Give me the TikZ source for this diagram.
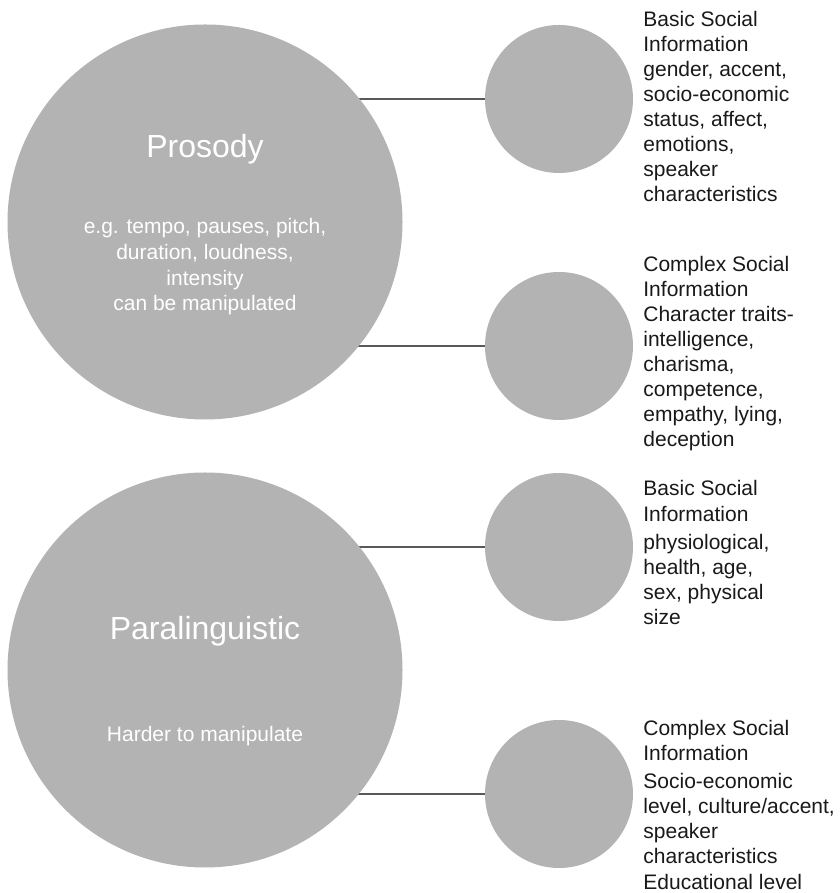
\documentclass[tikz,border=0pt]{standalone}
\usepackage{fontspec}
\setmainfont{Liberation Sans}
\usetikzlibrary{positioning,backgrounds}
\definecolor{cuegray}{RGB}{179,179,179}
\definecolor{linkgray}{RGB}{89,89,89}
\begin{document}
\begin{tikzpicture}[
    x=1pt, y=1pt,
    bigcue/.style={circle, fill=cuegray, draw=none, minimum size=395pt, inner sep=0pt},
    smallcue/.style={circle, fill=cuegray, draw=none, minimum size=148pt, inner sep=0pt},
    cuetitle/.style={text=white, font=\fontsize{32}{38}\selectfont, inner sep=0pt},
    cuenote/.style={text=white, align=center, font=\fontsize{21}{25.7}\selectfont, inner sep=0pt},
    info/.style={text=black!90, align=left, font=\fontsize{21}{25.1}\selectfont, inner sep=0pt},
    link/.style={draw=linkgray, line width=1.2pt}
]
    \useasboundingbox (0,0) rectangle (839,893);

    % --- LEFT: THE TWO CUES ---
    \node[bigcue] (prosody) at (205,671) {};
    \node[bigcue] (paraling) at (205,223) {};

    % base of a multi-line node = baseline of its last line
    \node[cuetitle, anchor=base] (prosodyT) at ([yshift=64pt]prosody.center) {Prosody};
    \node[cuenote, anchor=base] (prosodyN) at ([yshift=-89pt]prosody.center)
        {e.g. tempo, pauses, pitch,\\ duration, loudness,\\ intensity\\ can be manipulated};

    \node[cuetitle, anchor=base] (paralingT) at ([yshift=30pt]paraling.center) {Paralinguistic};
    \node[cuenote, anchor=base] (paralingN) at ([yshift=-72pt]paraling.center) {Harder to manipulate};

    % --- RIGHT: SOCIAL INFORMATION ---
    \node[smallcue] (basicA) at (559,794) {};
    \node[smallcue] (complexA) at (559,547) {};
    \node[smallcue] (basicB) at (559,346) {};
    \node[smallcue] (complexB) at (559,99) {};

    \node[info, right=10pt of basicA, anchor=base west, yshift=-103pt] (basicAT)
        {Basic Social\\ Information\\ gender, accent,\\ socio-economic\\ status, affect,\\ emotions,\\ speaker\\ characteristics};
    \node[info, right=10pt of complexA, anchor=base west, yshift=-101pt] (complexAT)
        {Complex Social\\ Information\\ Character traits-\\ intelligence,\\ charisma,\\ competence,\\ empathy, lying,\\ deception};
    \node[info, right=10pt of basicB, anchor=base west, yshift=-78pt] (basicBT)
        {Basic Social\\ Information\\[3.5pt] physiological,\\ health, age,\\ sex, physical\\ size};
    \node[info, right=10pt of complexB, anchor=base west, yshift=-95pt] (complexBT)
        {Complex Social\\ Information\\[3pt] Socio-economic\\ level, culture/accent,\\ speaker\\ characteristics\\ Educational level};

    % connectors run behind the big circles
    \begin{scope}[on background layer]
        \draw[link] (prosody.center |- basicA.west) -- (basicA.west);
        \draw[link] (prosody.center |- complexA.west) -- (complexA.west);
        \draw[link] (paraling.center |- basicB.west) -- (basicB.west);
        \draw[link] (paraling.center |- complexB.west) -- (complexB.west);
    \end{scope}
\end{tikzpicture}
\end{document}
